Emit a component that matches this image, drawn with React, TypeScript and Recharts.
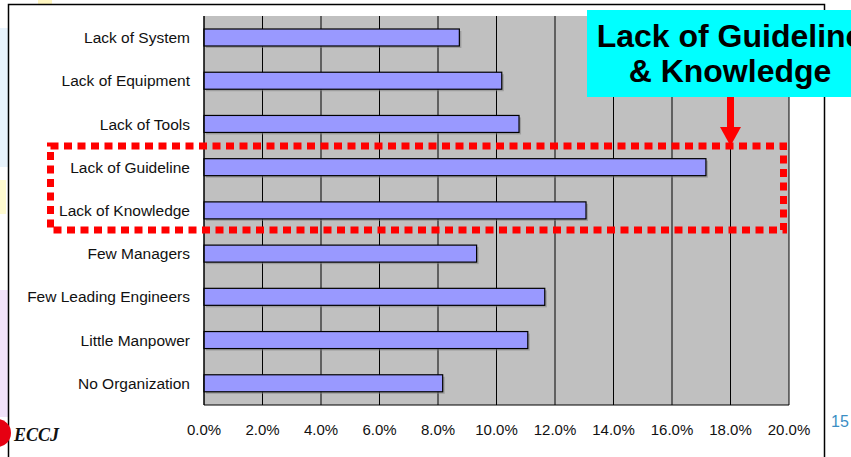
import React from 'react';
import { BarChart, Bar, XAxis, YAxis, CartesianGrid } from 'recharts';

const categories = [
  'Lack of System',
  'Lack of Equipment',
  'Lack of Tools',
  'Lack of Guideline',
  'Lack of Knowledge',
  'Few Managers',
  'Few Leading Engineers',
  'Little Manpower',
  'No Organization',
];
const shares = [8.73, 10.18, 10.77, 17.16, 13.06, 9.32, 11.65, 11.07, 8.16];
const xTicks = [0, 2, 4, 6, 8, 10, 12, 14, 16, 18, 20];

const chartData = categories.map((name, i) => ({ name, value: shares[i] }));

const FONT = 'Arial, "Liberation Sans", Helvetica, sans-serif';

// bar with the little drop shadow the old Excel chart had
const ShadowBar = (props: any) => {
  const { x, y, width, height } = props;
  if (width == null || width <= 0) return null;
  return (
    <g>
      <rect x={x + 2} y={y + 2} width={width} height={height} fill="#7f7f7f" opacity={0.55} />
      <rect x={x} y={y} width={width} height={height} fill="#9999FF" stroke="#000" strokeWidth={1.2} />
    </g>
  );
};

const App: React.FC = () => {
  return (
    <div style={{ position: 'fixed', left: 0, top: 0, width: 851, height: 457, overflow: 'hidden', background: '#fff' }}>
      {/* slide background bits behind the chart */}
      <svg width={851} height={457} style={{ position: 'absolute', left: 0, top: 0 }}>
        <rect x={0} y={28} width={8} height={139} fill="#e8f3fc" />
        <rect x={0} y={180} width={6} height={34} fill="#fffbd0" />
        <rect x={0} y={290} width={8} height={127} fill="#f1e2f9" />
        <rect x={38} y={0} width={14} height={4} fill="#fff6c0" />
        <rect x={8.5} y={4.5} width={816} height={470} fill="none" stroke="#000" strokeWidth={1.5} />
      </svg>

      <div style={{ position: 'absolute', left: 0, top: 0 }}>
        <BarChart
          width={851}
          height={457}
          data={chartData}
          layout="vertical"
          barSize={17}
          margin={{ top: 16, right: 62, bottom: 22, left: 0 }}
        >
          <CartesianGrid horizontal={false} stroke="#000" fill="#C0C0C0" fillOpacity={1} />
          <XAxis
            type="number"
            domain={[0, 20]}
            ticks={xTicks}
            height={30}
            tickLine={false}
            tickMargin={13}
            axisLine={{ stroke: '#000' }}
            tickFormatter={(v: number) => `${v.toFixed(1)}%`}
            tick={{ fontSize: 15, fill: '#111', fontFamily: FONT }}
            interval={0}
          />
          <YAxis
            type="category"
            dataKey="name"
            width={204}
            tickLine={false}
            tickMargin={8}
            axisLine={{ stroke: '#000' }}
            tick={{ fontSize: 15.5, fill: '#111', fontFamily: FONT }}
            interval={0}
          />
          <Bar dataKey="value" shape={<ShadowBar />} isAnimationActive={false} />
        </BarChart>
      </div>

      {/* annotations on top */}
      <svg width={851} height={457} style={{ position: 'absolute', left: 0, top: 0, pointerEvents: 'none' }}>
        <rect x={50.5} y={146} width={733} height={84} fill="none" stroke="#ff0000" strokeWidth={7} strokeDasharray="8 5.5" />
        <rect x={727} y={96} width={7} height={32} fill="#ff0000" />
        <polygon points="720,127 741,127 730.5,146" fill="#ff0000" />
        <rect x={587} y={10} width={280} height={87} fill="#00FFFF" />
        <text x={730} y={47} textAnchor="middle" fontFamily={FONT} fontWeight="bold" fontSize={32} fill="#000">
          Lack of Guideline
        </text>
        <text x={730} y={82} textAnchor="middle" fontFamily={FONT} fontWeight="bold" fontSize={32} fill="#000">
          &amp; Knowledge
        </text>
        <circle cx={-3} cy={433} r={14} fill="#e60012" />
        <text x={14} y={441} fontFamily='"Liberation Serif", "Times New Roman", serif' fontWeight="bold" fontStyle="italic" fontSize={18} fill="#111">
          ECCJ
        </text>
        <text x={831} y={427} fontFamily={FONT} fontSize={16} fill="#3b8ec4">
          15
        </text>
      </svg>
    </div>
  );
};

export default App;
